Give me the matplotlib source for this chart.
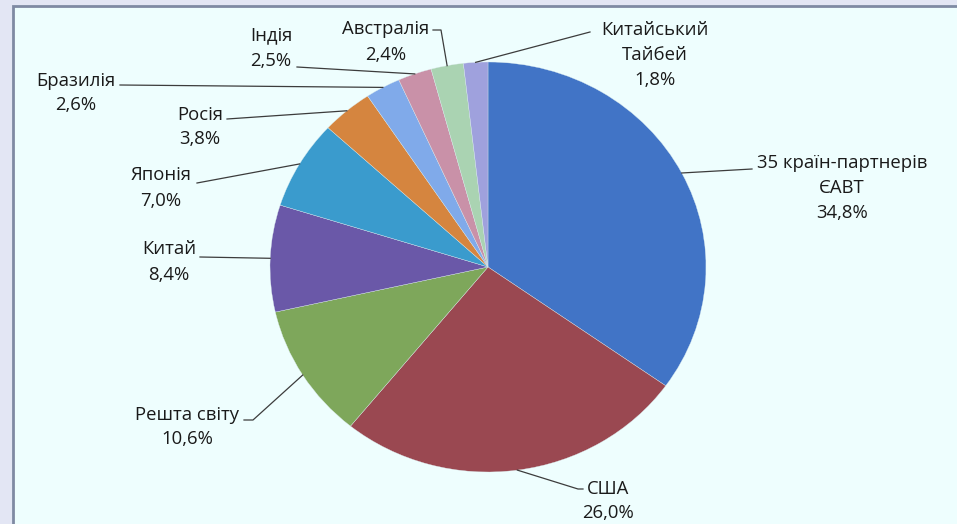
import numpy as np
import matplotlib.pyplot as plt
from matplotlib.patches import Rectangle

# Data
names = ['35 країн-партнерів\nЄАВТ', 'США', 'Решта світу', 'Китай', 'Японія',
         'Росія', 'Бразилія', 'Індія', 'Австралія', 'Китайський\nТайбей']
shares = [34.8, 26.0, 10.6, 8.4, 7.0, 3.8, 2.6, 2.5, 2.4, 1.8]
colors = ['#4174c6', '#9a4851', '#7ea75b', '#6a58a8', '#3a9bcd',
          '#d5853f', '#80aaea', '#c991a8', '#aad3b2', '#9fa1dd']

# label layout in pixel coords: text centre, line anchor, optional elbow
text_pos = [(842, 188), (608, 501), (187, 427), (169, 262), (161, 188),
            (200, 127), (76, 93), (271, 48), (386, 42), (655, 55)]
anchors = [(752, 169), (583, 489), (244, 420), (200, 257), (197, 183),
           (227, 119), (120, 85), (297, 67), (433, 30), (590, 32)]
elbows = [None, (578, 489), (253, 420), None, None,
          None, None, None, (441, 30), None]

W, H = 957, 524
cx, cy, rx, ry = 488, 267, 218, 205

plt.rcParams['font.family'] = ['Open Sans', 'DejaVu Sans']

fig = plt.figure(figsize=(W / 100, H / 100), dpi=100)
fig.patch.set_facecolor('#e3e6f4')

# chart area panel
bg = fig.add_axes([0, 0, 1, 1])
bg.set_xlim(0, W)
bg.set_ylim(H, 0)
bg.axis('off')
bg.add_patch(Rectangle((13, 6), W, H, facecolor='#eefefe',
                       edgecolor='#7f8aa3', linewidth=2))

ax = fig.add_axes([0, 0, 1, 1])
ax.patch.set_alpha(0)
wedges, _ = ax.pie(shares, colors=colors, startangle=90, counterclock=False,
                   radius=1, center=(0, 0),
                   wedgeprops=dict(edgecolor='#dcebee', linewidth=0.25))
ax.set_aspect('auto')
ax.set_xlim(-cx / rx, (W - cx) / rx)
ax.set_ylim(-(H - cy) / ry, cy / ry)


def to_data(px, py):
    return (px - cx) / rx, (cy - py) / ry


for i, w in enumerate(wedges):
    mid = np.deg2rad((w.theta1 + w.theta2) / 2)
    ex, ey = np.cos(mid), np.sin(mid)
    pts = [to_data(*anchors[i])]
    if elbows[i] is not None:
        pts.append(to_data(*elbows[i]))
    pts.append((ex, ey))
    xs, ys = zip(*pts)
    ax.plot(xs, ys, color='#3c3c3c', linewidth=0.9)
    tx, ty = to_data(*text_pos[i])
    label = names[i] + '\n' + f'{shares[i]:.1f}%'.replace('.', ',')
    ax.text(tx, ty, label, ha='center', va='center', multialignment='center',
            fontsize=13.3, color='#1a1a1a', linespacing=1.5)

fig.savefig('out.png', dpi=100, facecolor=fig.get_facecolor())
